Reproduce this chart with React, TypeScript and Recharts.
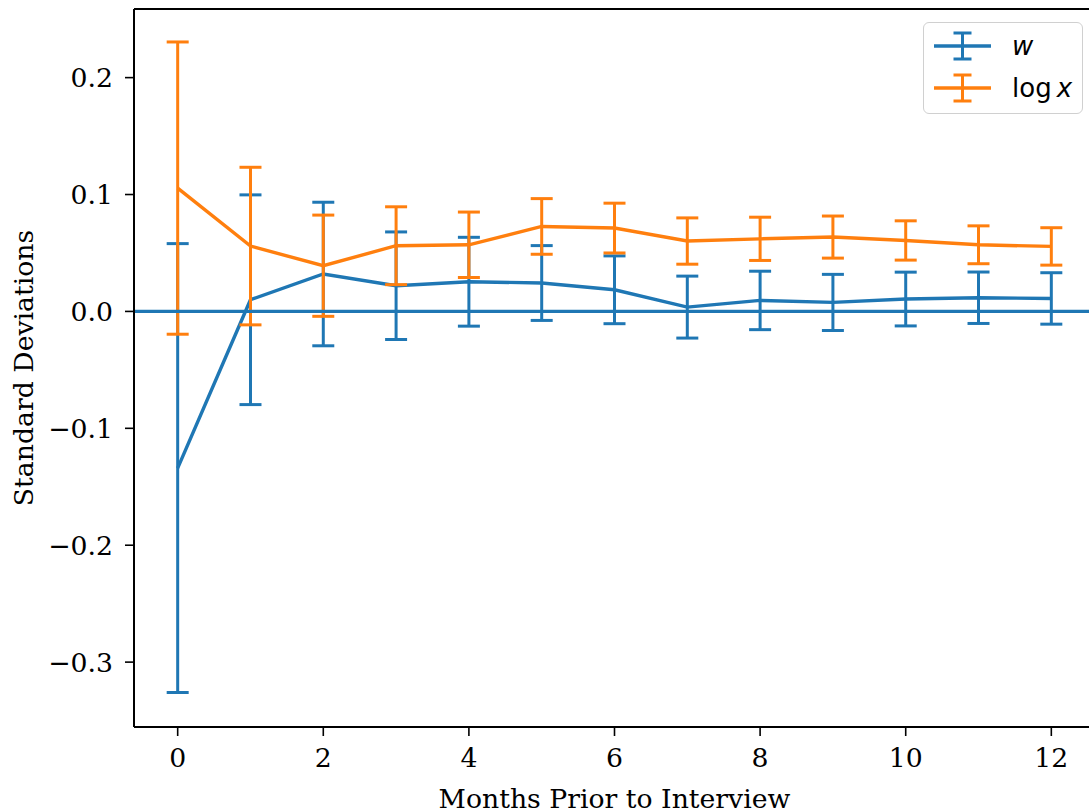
import React from 'react';
import { LineChart, Line, XAxis, YAxis, ErrorBar, ReferenceLine, Legend, Label } from 'recharts';

const months = [0, 1, 2, 3, 4, 5, 6, 7, 8, 9, 10, 11, 12];
const wMean = [-0.134, 0.010, 0.032, 0.022, 0.0254, 0.0243, 0.0185, 0.0037, 0.0094, 0.0077, 0.0106, 0.0117, 0.0111];
const wErr = [0.192, 0.0897, 0.0614, 0.046, 0.038, 0.032, 0.029, 0.0265, 0.025, 0.024, 0.023, 0.022, 0.022];
const xMean = [0.1055, 0.0559, 0.0391, 0.0562, 0.057, 0.0727, 0.0713, 0.0602, 0.0621, 0.0636, 0.0607, 0.057, 0.0556];
const xErr = [0.125, 0.0674, 0.0433, 0.0333, 0.028, 0.0238, 0.0213, 0.0198, 0.0185, 0.018, 0.0168, 0.0162, 0.016];
const xTicks = [0, 2, 4, 6, 8, 10, 12];
const yTicks = [-0.3, -0.2, -0.1, 0, 0.1, 0.2];

const X_DOMAIN: [number, number] = [-0.6, 12.6];
const Y_DOMAIN: [number, number] = [-0.3555, 0.2587];

const BLUE = '#1f77b4';
const ORANGE = '#ff7f0e';
const SERIF = 'DejaVu Serif';
const SANS = 'DejaVu Sans';
const FS = 26.7;

const data = months.map((m, i) => ({
  month: m,
  w: wMean[i],
  wErr: wErr[i],
  logx: xMean[i],
  logxErr: xErr[i],
}));

const fmtY = (v: number) => (v < 0 ? '\u2212' + Math.abs(v).toFixed(1) : v.toFixed(1));

const Handle = ({ color }: { color: string }) => (
  <svg width={60} height={32} style={{ display: 'block' }}>
    <line x1={1} y1={16} x2={58} y2={16} stroke={color} strokeWidth={3.4} />
    <line x1={29.5} y1={3} x2={29.5} y2={29} stroke={color} strokeWidth={3} />
    <line x1={20.5} y1={3} x2={38.5} y2={3} stroke={color} strokeWidth={3} />
    <line x1={20.5} y1={29} x2={38.5} y2={29} stroke={color} strokeWidth={3} />
  </svg>
);

const LegendBox = () => (
  <div
    style={{
      width: 158,
      height: 90,
      border: '1.5px solid #d0d0d0',
      borderRadius: 6,
      background: 'rgba(255,255,255,0.85)',
      fontFamily: SANS,
      fontSize: 26,
      color: '#000',
      position: 'relative',
    }}
  >
    <div style={{ position: 'absolute', left: 9, top: 7, display: 'flex', alignItems: 'center' }}>
      <Handle color={BLUE} />
      <span style={{ marginLeft: 19, fontStyle: 'italic', lineHeight: '32px' }}>w</span>
    </div>
    <div style={{ position: 'absolute', left: 9, top: 49, display: 'flex', alignItems: 'center' }}>
      <Handle color={ORANGE} />
      <span style={{ marginLeft: 19, lineHeight: '32px' }}>
        log<span style={{ fontStyle: 'italic', marginLeft: 5 }}>x</span>
      </span>
    </div>
  </div>
);

export default function App() {
  return (
    <div style={{ position: 'absolute', left: 0, top: 0, width: 1089, height: 810, overflow: 'hidden', background: '#fff' }}>
      <LineChart
        width={1096}
        height={810}
        data={data}
        margin={{ top: 9, right: 1, bottom: 0, left: 0 }}
      >
        <XAxis
          dataKey="month"
          type="number"
          domain={X_DOMAIN}
          ticks={xTicks}
          allowDataOverflow
          height={83}
          tickSize={9}
          tickMargin={12}
          axisLine={{ stroke: '#000', strokeWidth: 2 }}
          tickLine={{ stroke: '#000', strokeWidth: 1.6 }}
          tick={{ fill: '#000', fontSize: FS, fontFamily: SERIF }}
        >
          <Label
            content={({ viewBox }: any) => (
              <text
                x={viewBox.x + viewBox.width / 2}
                y={viewBox.y + 81}
                textAnchor="middle"
                fontFamily={SERIF}
                fontSize={FS}
                fill="#000"
              >
                Months Prior to Interview
              </text>
            )}
          />
        </XAxis>
        <YAxis
          type="number"
          domain={Y_DOMAIN}
          ticks={yTicks}
          allowDataOverflow
          width={134}
          tickSize={9}
          tickMargin={12}
          tickFormatter={fmtY}
          axisLine={{ stroke: '#000', strokeWidth: 2 }}
          tickLine={{ stroke: '#000', strokeWidth: 1.6 }}
          tick={{ fill: '#000', fontSize: FS, fontFamily: SERIF }}
        >
          <Label
            content={({ viewBox }: any) => {
              const cx = 33;
              const cy = viewBox.y + viewBox.height / 2;
              return (
                <text
                  x={cx}
                  y={cy}
                  transform={`rotate(-90, ${cx}, ${cy})`}
                  textAnchor="middle"
                  fontFamily={SERIF}
                  fontSize={FS}
                  fill="#000"
                >
                  Standard Deviations
                </text>
              );
            }}
          />
        </YAxis>
        <ReferenceLine y={Y_DOMAIN[1]} stroke="#000" strokeWidth={2} ifOverflow="visible" />
        <Line
          dataKey="w"
          stroke={BLUE}
          strokeWidth={3.4}
          dot={false}
          activeDot={false}
          isAnimationActive={false}
          name="w"
        >
          <ErrorBar dataKey="wErr" direction="y" width={11} stroke={BLUE} strokeWidth={3} />
        </Line>
        <Line
          dataKey="logx"
          stroke={ORANGE}
          strokeWidth={3.4}
          dot={false}
          activeDot={false}
          isAnimationActive={false}
          name="log x"
        >
          <ErrorBar dataKey="logxErr" direction="y" width={11} stroke={ORANGE} strokeWidth={3} />
        </Line>
        <ReferenceLine y={0} stroke={BLUE} strokeWidth={3.4} />
        <Legend
          layout="horizontal"
          verticalAlign="middle"
          align="center"
          content={() => <LegendBox />}
          wrapperStyle={{ position: 'absolute', left: 923, top: 22, width: 160, height: 92 }}
        />
      </LineChart>
    </div>
  );
}
